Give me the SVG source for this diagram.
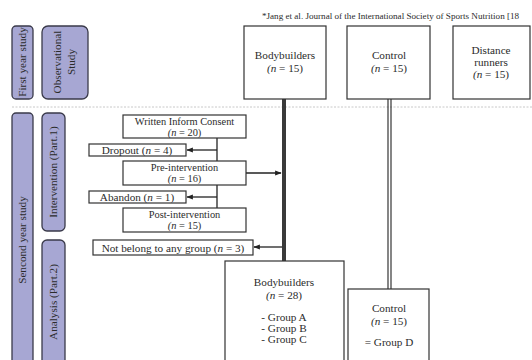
<svg xmlns="http://www.w3.org/2000/svg" width="532" height="360" viewBox="0 0 532 360">
<defs>
<style>
.t{font-family:"Liberation Serif","DejaVu Serif",serif;font-size:11.2px;fill:#2b2b2b;text-anchor:middle}
.k{font-size:10.4px}
.s{font-family:"Liberation Serif","DejaVu Serif",serif;font-size:9.1px;fill:#2b2b2b}
.bar{fill:#a7a7d3;stroke:#3a3a4a;stroke-width:1.3}
.box{fill:#fff;stroke:#333;stroke-width:1.2}
.ln{stroke:#222;stroke-width:1.3;fill:none}
</style>
<marker id="ah" viewBox="0 0 10 10" refX="9" refY="5" markerWidth="5" markerHeight="5" orient="auto">
<path d="M0,1 L10,5 L0,9 z" fill="#222"/>
</marker>
</defs>
<rect width="532" height="360" fill="#fff"/>
<text class="s" x="262" y="19">*Jang et al. Journal of the International Society of Sports Nutrition [18</text>
<line x1="12" y1="107" x2="532" y2="107" stroke="#c8c8c8" stroke-width="1" stroke-dasharray="2,1.5"/>

<g id="first-year"><rect class="bar" x="12" y="26" width="21" height="73" rx="4"/>
<text class="t" transform="translate(26,62) rotate(-90)">First  year study</text></g>
<g id="observational"><rect class="bar" x="42" y="26" width="46" height="73" rx="6"/>
<text class="t" transform="translate(61,62) rotate(-90)">Observational</text>
<text class="t" transform="translate(75,62) rotate(-90)">Study</text></g>
<g id="second-year"><rect class="bar" x="12" y="113" width="21" height="260" rx="4"/>
<text class="t" transform="translate(26,240) rotate(-90)">Sencond year study</text></g>
<g id="intervention"><rect class="bar" x="42" y="113" width="23" height="118" rx="5"/>
<text class="t" transform="translate(57,172) rotate(-90)">Intervention (Part.1)</text></g>
<g id="analysis"><rect class="bar" x="42" y="240" width="23" height="130" rx="5"/>
<text class="t" transform="translate(57,302) rotate(-90)">Analysis (Part.2)</text></g>

<g id="connectors">
<line x1="284" y1="99" x2="284" y2="261" stroke="#3a3a3a" stroke-width="4"/>
<line x1="388" y1="99" x2="388" y2="289" stroke="#222" stroke-width="1.1"/>
<line x1="391" y1="99" x2="391" y2="289" stroke="#222" stroke-width="1.1"/>
<line class="ln" x1="217" y1="138" x2="217" y2="161"/>
<line class="ln" x1="217" y1="185" x2="217" y2="208"/>
<line class="ln" x1="217" y1="150" x2="187" y2="150" marker-end="url(#ah)"/>
<line class="ln" x1="217" y1="197" x2="187" y2="197" marker-end="url(#ah)"/>
<line class="ln" x1="246" y1="173" x2="281" y2="173" marker-end="url(#ah)"/>
<line class="ln" x1="282" y1="247" x2="254" y2="247" marker-end="url(#ah)"/>
</g>

<g id="bodybuilders-1"><rect class="box" x="244" y="26" width="82" height="73"/>
<text class="t" x="285" y="59">Bodybuilders</text>
<text class="t" x="285" y="72"><tspan font-style="italic">(n</tspan> = 15)</text></g>
<g id="control-1"><rect class="box" x="347" y="26" width="83" height="73"/>
<text class="t" x="389" y="59">Control</text>
<text class="t" x="389" y="72"><tspan font-style="italic">(n</tspan> = 15)</text></g>
<g id="distance"><rect class="box" x="453" y="26" width="77" height="73"/>
<text class="t" x="491" y="54">Distance</text>
<text class="t" x="491" y="66">runners</text>
<text class="t" x="491" y="78"><tspan font-style="italic">(n</tspan> = 15)</text></g>

<g id="consent"><rect class="box" x="123" y="115" width="123" height="23"/>
<text class="t k" x="184.5" y="124.5">Written Inform Consent</text>
<text class="t k" x="184.5" y="135.5"><tspan font-style="italic">(n</tspan> = 20)</text></g>
<g id="dropout"><rect class="box" x="89" y="144" width="97" height="12"/>
<text class="t" x="137" y="153.5">Dropout (<tspan font-style="italic">n</tspan> = 4)</text></g>
<g id="pre"><rect class="box" x="123" y="161" width="123" height="24"/>
<text class="t k" x="184.5" y="171">Pre-intervention</text>
<text class="t k" x="184.5" y="182"><tspan font-style="italic">(n</tspan> = 16)</text></g>
<g id="abandon"><rect class="box" x="89" y="191" width="97" height="12"/>
<text class="t" x="137" y="200.5">Abandon (<tspan font-style="italic">n</tspan> = 1)</text></g>
<g id="post"><rect class="box" x="123" y="208" width="123" height="24"/>
<text class="t k" x="184.5" y="218">Post-intervention</text>
<text class="t k" x="184.5" y="229"><tspan font-style="italic">(n</tspan> = 15)</text></g>
<g id="notbelong"><rect class="box" x="93" y="240" width="160" height="15"/>
<text class="t" x="173" y="251.5">Not belong to any group (<tspan font-style="italic">n</tspan> = 3)</text></g>

<g id="bodybuilders-2"><rect class="box" x="225" y="261" width="119" height="110"/>
<text class="t" x="284" y="286">Bodybuilders</text>
<text class="t" x="284" y="299"><tspan font-style="italic">(n</tspan> = 28)</text>
<text class="t" x="284" y="321">- Group A</text>
<text class="t" x="284" y="332">- Group B</text>
<text class="t" x="284" y="343">- Group C</text></g>
<g id="control-2"><rect class="box" x="348" y="289" width="81" height="82"/>
<text class="t" x="389" y="312">Control</text>
<text class="t" x="389" y="325"><tspan font-style="italic">(n</tspan> = 15)</text>
<text class="t" x="389" y="346">= Group D</text></g>
</svg>
